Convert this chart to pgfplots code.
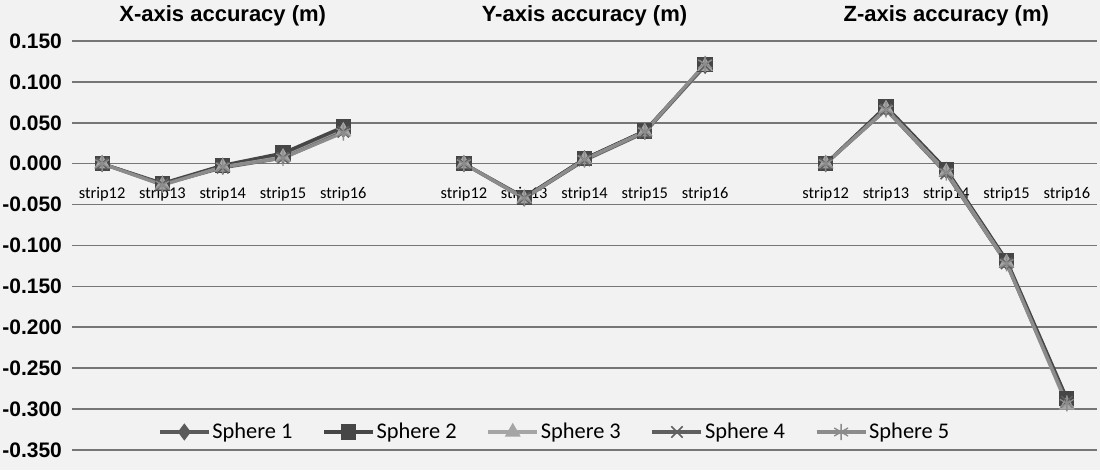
\documentclass[border=0pt]{standalone}
\usepackage{fontspec}
\setmainfont{Liberation Sans}
\newfontfamily\carlito{Carlito}
\usepackage{pgfplots}
\pgfplotsset{compat=1.18}
\usetikzlibrary{backgrounds}

\definecolor{bgc}{RGB}{242,242,242}
\definecolor{gridc}{RGB}{118,118,118}
\definecolor{sA}{RGB}{90,90,90}
\definecolor{sB}{RGB}{70,70,70}
\definecolor{sC}{RGB}{165,165,165}
\definecolor{sD}{RGB}{95,95,95}
\definecolor{sE}{RGB}{140,140,140}

\begin{document}
\begin{tikzpicture}
\begin{axis}[
  scale only axis, width=512.5pt, height=204.5pt,
  xmin=-0.5, xmax=16.5, ymin=-0.35, ymax=0.15,
  clip=false,
  axis x line*=middle, axis y line*=left,
  axis line style={draw=none},
  major tick length=0pt,
  ymajorgrids, grid style={gridc, line width=0.8pt},
  ytick={-0.35,-0.30,-0.25,-0.20,-0.15,-0.10,-0.05,0,0.05,0.10,0.15},
  yticklabel style={/pgf/number format/.cd, fixed, fixed zerofill, precision=3,
    assume math mode=true, /tikz/.cd, font=\bfseries\fontsize{10.5}{12}\selectfont, xshift=-1.5pt},
  xtick={0,1,2,3,4,6,7,8,9,10,12,13,14,15,16},
  xticklabels={strip12,strip13,strip14,strip15,strip16,strip12,strip13,strip14,strip15,strip16,strip12,strip13,strip14,strip15,strip16},
  xticklabel style={font=\carlito\fontsize{8.2}{9}\selectfont, yshift=-8pt},
  unbounded coords=jump,
  every axis plot/.append style={line width=1.6pt, mark size=3pt},
  legend style={at={(0.471,0.044)}, anchor=center, draw=none, fill=none,
    font=\carlito\fontsize{11.2}{13}\selectfont,
    nodes={inner xsep=1pt},
    /tikz/every even column/.append style={column sep=14pt}},
  legend columns=5,
  legend image code/.code={\draw[mark repeat=2,mark phase=2] plot coordinates {(0cm,0cm)(0.43cm,0cm)(0.86cm,0cm)};},
]
\addplot[sA, mark=diamond*, mark options={solid}] coordinates {
(0,0) (1,-0.025) (2,-0.003) (3,0.010) (4,0.042) (5,nan)
(6,0) (7,-0.042) (8,0.006) (9,0.040) (10,0.120) (11,nan)
(12,0) (13,0.068) (14,-0.008) (15,-0.120) (16,-0.289)};
\addlegendentry{Sphere 1}
\addplot[sB, mark=square*] coordinates {
(0,0) (1,-0.024) (2,-0.002) (3,0.013) (4,0.045) (5,nan)
(6,0) (7,-0.041) (8,0.006) (9,0.040) (10,0.121) (11,nan)
(12,0) (13,0.070) (14,-0.007) (15,-0.118) (16,-0.287)};
\addlegendentry{Sphere 2}
\addplot[sC, mark=triangle*] coordinates {
(0,0) (1,-0.026) (2,-0.004) (3,0.008) (4,0.040) (5,nan)
(6,0) (7,-0.043) (8,0.005) (9,0.039) (10,0.119) (11,nan)
(12,0) (13,0.067) (14,-0.010) (15,-0.121) (16,-0.295)};
\addlegendentry{Sphere 3}
\addplot[sD, mark=x, mark size=4pt, mark options={line width=0.8pt}] coordinates {
(0,0) (1,-0.025) (2,-0.005) (3,0.007) (4,0.039) (5,nan)
(6,0) (7,-0.042) (8,0.004) (9,0.038) (10,0.120) (11,nan)
(12,0) (13,0.066) (14,-0.012) (15,-0.122) (16,-0.291)};
\addlegendentry{Sphere 4}
\addplot[sE, mark=asterisk, mark size=4pt, mark options={line width=0.7pt}] coordinates {
(0,0) (1,-0.026) (2,-0.004) (3,0.007) (4,0.038) (5,nan)
(6,0) (7,-0.042) (8,0.005) (9,0.039) (10,0.122) (11,nan)
(12,0) (13,0.066) (14,-0.011) (15,-0.122) (16,-0.293)};
\addlegendentry{Sphere 5}
\node[font=\bfseries\fontsize{11}{13}\selectfont, yshift=12.5pt] at (axis cs:2,0.15) {X-axis accuracy (m)};
\node[font=\bfseries\fontsize{11}{13}\selectfont, yshift=12.5pt] at (axis cs:8,0.15) {Y-axis accuracy (m)};
\node[font=\bfseries\fontsize{11}{13}\selectfont, yshift=12.5pt] at (axis cs:14,0.15) {Z-axis accuracy (m)};
\coordinate (bl) at (rel axis cs:0,0);
\coordinate (tr) at (rel axis cs:1,1);
\end{axis}
\pgfresetboundingbox
\path ([shift={(-36pt,-10pt)}]bl) rectangle ([shift={(1.5pt,20.5pt)}]tr);
\begin{scope}[on background layer]
\fill[bgc] ([shift={(-36pt,-10pt)}]bl) rectangle ([shift={(1.5pt,20.5pt)}]tr);
\end{scope}
\end{tikzpicture}
\end{document}
